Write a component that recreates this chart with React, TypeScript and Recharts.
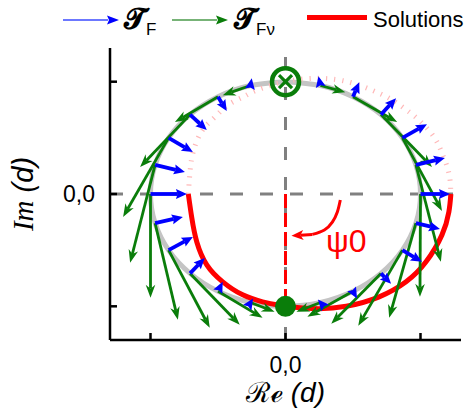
import React from "react";
import {
  ComposedChart,
  XAxis,
  YAxis,
  Scatter,
  ReferenceLine,
  ReferenceDot,
} from "recharts";

// unit circle, every 15 deg from the top, counter-clockwise
const circlePts = [
  { x: 0, y: 1 }, { x: -0.259, y: 0.966 }, { x: -0.5, y: 0.866 }, { x: -0.707, y: 0.707 },
  { x: -0.866, y: 0.5 }, { x: -0.966, y: 0.259 }, { x: -1, y: 0 }, { x: -0.966, y: -0.259 },
  { x: -0.866, y: -0.5 }, { x: -0.707, y: -0.707 }, { x: -0.5, y: -0.866 }, { x: -0.259, y: -0.966 },
  { x: 0, y: -1 }, { x: 0.259, y: -0.966 }, { x: 0.5, y: -0.866 }, { x: 0.707, y: -0.707 },
  { x: 0.866, y: -0.5 }, { x: 0.966, y: -0.259 }, { x: 1, y: 0 }, { x: 0.966, y: 0.259 },
  { x: 0.866, y: 0.5 }, { x: 0.707, y: 0.707 }, { x: 0.5, y: 0.866 }, { x: 0.259, y: 0.966 },
  { x: 0, y: 1 },
];

// solid red branch (lower half)
const solutionPts = [
  { x: -0.72, y: 0 }, { x: -0.694, y: -0.213 }, { x: -0.657, y: -0.427 }, { x: -0.583, y: -0.631 },
  { x: -0.465, y: -0.782 }, { x: -0.317, y: -0.898 }, { x: -0.17, y: -0.96 }, { x: -0.044, y: -0.99 },
  { x: 0.199, y: -1.02 }, { x: 0.45, y: -1.0 }, { x: 0.694, y: -0.916 }, { x: 0.893, y: -0.782 },
  { x: 1.041, y: -0.604 }, { x: 1.159, y: -0.364 }, { x: 1.21, y: -0.16 }, { x: 1.225, y: 0 },
];

// faint dotted branch (upper half)
const solutionUpper = [
  { x: -0.72, y: 0 }, { x: -0.708, y: 0.187 }, { x: -0.686, y: 0.364 }, { x: -0.62, y: 0.56 },
  { x: -0.524, y: 0.684 }, { x: -0.428, y: 0.791 }, { x: -0.317, y: 0.862 }, { x: -0.214, y: 0.924 },
  { x: 0, y: 1.0 }, { x: 0.251, y: 1.03 }, { x: 0.472, y: 0.996 }, { x: 0.642, y: 0.924 },
  { x: 0.768, y: 0.853 }, { x: 0.878, y: 0.764 }, { x: 0.989, y: 0.658 }, { x: 1.1, y: 0.507 },
  { x: 1.159, y: 0.364 }, { x: 1.21, y: 0.187 }, { x: 1.225, y: 0 },
];

const psiArc = [
  { x: 0.406, y: -0.053 }, { x: 0.384, y: -0.16 }, { x: 0.347, y: -0.25 },
  { x: 0.288, y: -0.32 }, { x: 0.199, y: -0.36 },
];
const psiHead = { x0: 0.199, y0: -0.36, x1: 0.044, y1: -0.372 };

// T_F vectors
const blueArrows = [
  { x0: -0.259, y0: 0.966, x1: -0.25, y1: 1.03 },
  { x0: -0.5, y0: 0.866, x1: -0.435, y1: 0.738 },
  { x0: -0.707, y0: 0.707, x1: -0.583, y1: 0.569 },
  { x0: -0.866, y0: 0.5, x1: -0.686, y1: 0.373 },
  { x0: -0.966, y0: 0.259, x1: -0.745, y1: 0.196 },
  { x0: -1, y0: 0, x1: -0.73, y1: 0 },
  { x0: -0.966, y0: -0.259, x1: -0.76, y1: -0.204 },
  { x0: -0.866, y0: -0.5, x1: -0.686, y1: -0.382 },
  { x0: -0.707, y0: -0.707, x1: -0.598, y1: -0.569 },
  { x0: -0.5, y0: -0.866, x1: -0.465, y1: -0.782 },
  { x0: -0.259, y0: -0.966, x1: -0.24, y1: -0.93 },
  { x0: 0.259, y0: -0.966, x1: 0.24, y1: -0.94 },
  { x0: 0.5, y0: -0.866, x1: 0.53, y1: -0.93 },
  { x0: 0.707, y0: -0.707, x1: 0.782, y1: -0.8 },
  { x0: 0.866, y0: -0.5, x1: 1.011, y1: -0.604 },
  { x0: 0.966, y0: -0.259, x1: 1.144, y1: -0.311 },
  { x0: 1, y0: 0, x1: 1.218, y1: 0 },
  { x0: 0.966, y0: 0.259, x1: 1.181, y1: 0.32 },
  { x0: 0.866, y0: 0.5, x1: 1.048, y1: 0.622 },
  { x0: 0.707, y0: 0.707, x1: 0.819, y1: 0.853 },
  { x0: 0.5, y0: 0.866, x1: 0.546, y1: 0.996 },
  { x0: 0.259, y0: 0.966, x1: 0.244, y1: 1.049 },
];

// T_Fv vectors
const greenArrows = [
  { x0: -0.259, y0: 0.966, x1: -0.465, y1: 0.88 },
  { x0: -0.5, y0: 0.866, x1: -0.819, y1: 0.64 },
  { x0: -0.707, y0: 0.707, x1: -1.077, y1: 0.24 },
  { x0: -0.866, y0: 0.5, x1: -1.203, y1: -0.204 },
  { x0: -0.966, y0: 0.259, x1: -1.151, y1: -0.613 },
  { x0: -1, y0: 0, x1: -1.0, y1: -0.924 },
  { x0: -0.966, y0: -0.259, x1: -0.797, y1: -1.12 },
  { x0: -0.866, y0: -0.5, x1: -0.561, y1: -1.191 },
  { x0: -0.707, y0: -0.707, x1: -0.339, y1: -1.164 },
  { x0: -0.5, y0: -0.866, x1: -0.17, y1: -1.102 },
  { x0: -0.259, y0: -0.966, x1: -0.081, y1: -1.049 },
  { x0: 0.259, y0: -0.966, x1: 0.081, y1: -1.049 },
  { x0: 0.5, y0: -0.866, x1: 0.162, y1: -1.093 },
  { x0: 0.707, y0: -0.707, x1: 0.339, y1: -1.156 },
  { x0: 0.866, y0: -0.5, x1: 0.539, y1: -1.173 },
  { x0: 0.966, y0: -0.259, x1: 0.768, y1: -1.102 },
  { x0: 1, y0: 0, x1: 0.996, y1: -0.916 },
  { x0: 0.966, y0: 0.259, x1: 1.151, y1: -0.604 },
  { x0: 0.866, y0: 0.5, x1: 1.159, y1: -0.151 },
  { x0: 0.707, y0: 0.707, x1: 1.085, y1: 0.24 },
  { x0: 0.5, y0: 0.866, x1: 0.827, y1: 0.64 },
  { x0: 0.259, y0: 0.966, x1: 0.443, y1: 0.907 },
];

const ticks = [-1, 0, 1];
const domain: [number, number] = [-1.3, 1.3];

const BLUE = "#0000ff";
const GREEN = "#0a7d0a";
const RED = "#ff0000";

function arrowShape(color: string, width: number, headLen: number, headW: number, notch: number) {
  return (p: any) => {
    const { x1, y1, x2, y2 } = p;
    const dx = x2 - x1;
    const dy = y2 - y1;
    const len = Math.hypot(dx, dy) || 1;
    const ux = dx / len;
    const uy = dy / len;
    const nx = -uy;
    const ny = ux;
    const bx = x2 - ux * headLen;
    const by = y2 - uy * headLen;
    const mx = x2 - ux * headLen * (1 - notch);
    const my = y2 - uy * headLen * (1 - notch);
    const d = `M${x2},${y2} L${bx + nx * headW},${by + ny * headW} L${mx},${my} L${bx - nx * headW},${by - ny * headW} Z`;
    return (
      <g>
        {len > headLen && (
          <line x1={x1} y1={y1} x2={mx} y2={my} stroke={color} strokeWidth={width} />
        )}
        <path d={d} fill={color} />
      </g>
    );
  };
}

const blueShape = arrowShape(BLUE, 3.8, 11, 5, 0.15);
const greenShape = arrowShape(GREEN, 2.8, 13, 4.8, 0.3);
const redShape = arrowShape(RED, 3, 12, 5, 0.25);

const noDot = () => <g />;

function YLabel(props: any) {
  const { viewBox } = props;
  const cx = 33;
  const cy = viewBox.y + viewBox.height / 2;
  return (
    <text x={cx} y={cy} transform={`rotate(-90, ${cx}, ${cy})`} textAnchor="middle" fontSize={29} fill="#000">
      <tspan fontFamily="Liberation Serif" fontStyle="italic">Im</tspan>
      <tspan fontFamily="Liberation Sans" fontStyle="italic"> (d)</tspan>
    </text>
  );
}

function XLabel(props: any) {
  const { viewBox } = props;
  const cx = viewBox.x + viewBox.width / 2;
  return (
    <text x={cx} y={402} textAnchor="middle" fontSize={28} fill="#000">
      <tspan fontFamily="DejaVu Serif">ℛℯ</tspan>
      <tspan fontFamily="Liberation Sans" fontStyle="italic"> (d)</tspan>
    </text>
  );
}

function Legend() {
  return (
    <svg width={465} height={46} style={{ position: "absolute", left: 0, top: 0 }}>
      <line x1={63} y1={20} x2={108} y2={20} stroke="#3b4bff" strokeWidth={1.5} />
      <path d="M119,20 L107,15.5 L109,20 L107,24.5 Z" fill="#0000ff" />
      <text x={124} y={28} fontSize={28} fontFamily="DejaVu Serif" fontWeight="bold">𝓣</text>
      <text x={146} y={35} fontSize={17} fontFamily="Liberation Sans">F</text>
      <line x1={172} y1={20} x2={217} y2={20} stroke="#4a9a4a" strokeWidth={1.5} />
      <path d="M228,20 L216,15.5 L218,20 L216,24.5 Z" fill={GREEN} />
      <text x={234} y={28} fontSize={28} fontFamily="DejaVu Serif" fontWeight="bold">𝓣</text>
      <text x={256} y={35} fontSize={17} fontFamily="Liberation Sans">Fν</text>
      <rect x={307} y={15} width={60} height={5} fill={RED} />
      <text x={373} y={27} fontSize={22} fontFamily="Liberation Sans">Solutions</text>
    </svg>
  );
}

export default function App() {
  const tickFmt = (v: number) => (v === 0 ? "0,0" : "");
  const tickStyle = { fill: "#000", fontSize: 23, fontFamily: "Liberation Sans" };
  const axisLine = { stroke: "#000", strokeWidth: 2.5 };
  return (
    <div style={{ position: "absolute", left: 0, top: 0, width: 465, height: 417, background: "#fff" }}>
      <Legend />
      <ComposedChart width={465} height={417} margin={{ top: 48, right: 4, bottom: 0, left: 0 }}>
        <XAxis
          type="number"
          dataKey="x"
          domain={domain}
          ticks={ticks}
          tickFormatter={tickFmt}
          tick={tickStyle}
          tickSize={-7}
          tickMargin={24}
          axisLine={axisLine}
          tickLine={axisLine}
          height={77}
          allowDataOverflow
          label={<XLabel />}
        />
        <XAxis xAxisId="top" orientation="top" type="number" domain={domain} height={0} tick={false} tickLine={false} axisLine={axisLine} allowDataOverflow />
        <YAxis
          type="number"
          dataKey="y"
          domain={domain}
          ticks={ticks}
          tickFormatter={tickFmt}
          tick={tickStyle}
          tickSize={-7}
          tickMargin={22}
          axisLine={axisLine}
          tickLine={axisLine}
          width={110}
          allowDataOverflow
          label={<YLabel />}
        />
        <YAxis yAxisId="right" orientation="right" type="number" domain={domain} width={0} tick={false} tickLine={false} axisLine={axisLine} allowDataOverflow />

        <ReferenceLine y={0} stroke="#808080" strokeWidth={3} strokeDasharray="13 17" zIndex={100} />
        <ReferenceLine x={0} stroke="#808080" strokeWidth={3} strokeDasharray="13 17" zIndex={100} />
        <ReferenceLine segment={[{ x: 0, y: 0 }, { x: 0, y: -1 }]} stroke={RED} strokeWidth={3} strokeDasharray="14 5" zIndex={110} />

        <Scatter data={circlePts} shape={noDot} line={{ stroke: "#c4c4c4", strokeWidth: 5 }} lineJointType="natural" isAnimationActive={false} zIndex={200} />
        <Scatter data={solutionUpper} shape={noDot} line={{ stroke: "#ffb8b8", strokeWidth: 5, strokeDasharray: "1.2 7" }} lineJointType="natural" isAnimationActive={false} zIndex={210} />
        <Scatter data={solutionPts} shape={noDot} line={{ stroke: RED, strokeWidth: 5 }} lineJointType="natural" isAnimationActive={false} zIndex={220} />
        <Scatter data={psiArc} shape={noDot} line={{ stroke: RED, strokeWidth: 3 }} lineJointType="natural" isAnimationActive={false} zIndex={230} />
        <ReferenceLine segment={[{ x: psiHead.x0, y: psiHead.y0 }, { x: psiHead.x1, y: psiHead.y1 }]} shape={redShape} ifOverflow="visible" zIndex={240} />

        {greenArrows.map((a, i) => (
          <ReferenceLine key={`g${i}`} segment={[{ x: a.x0, y: a.y0 }, { x: a.x1, y: a.y1 }]} shape={greenShape} ifOverflow="visible" zIndex={800} />
        ))}
        {blueArrows.map((a, i) => (
          <ReferenceLine key={`b${i}`} segment={[{ x: a.x0, y: a.y0 }, { x: a.x1, y: a.y1 }]} shape={blueShape} ifOverflow="visible" zIndex={810} />
        ))}

        <ReferenceDot
          x={0}
          y={1}
          ifOverflow="visible"
          zIndex={900}
          shape={(p: any) => (
            <g>
              <circle cx={p.cx} cy={p.cy} r={13.5} fill="none" stroke={GREEN} strokeWidth={4.5} />
              <line x1={p.cx - 6.5} y1={p.cy - 6.5} x2={p.cx + 6.5} y2={p.cy + 6.5} stroke={GREEN} strokeWidth={3.2} />
              <line x1={p.cx - 6.5} y1={p.cy + 6.5} x2={p.cx + 6.5} y2={p.cy - 6.5} stroke={GREEN} strokeWidth={3.2} />
            </g>
          )}
        />
        <ReferenceDot x={0} y={-1} ifOverflow="visible" zIndex={900} shape={(p: any) => <circle cx={p.cx} cy={p.cy} r={10.5} fill={GREEN} />} />
        <ReferenceDot
          x={0.3}
          y={-0.52}
          ifOverflow="visible"
          zIndex={900}
          shape={(p: any) => (
            <text x={p.cx} y={p.cy} fontSize={32} fill={RED} fontFamily="Liberation Sans">ψ0</text>
          )}
        />
      </ComposedChart>
    </div>
  );
}
